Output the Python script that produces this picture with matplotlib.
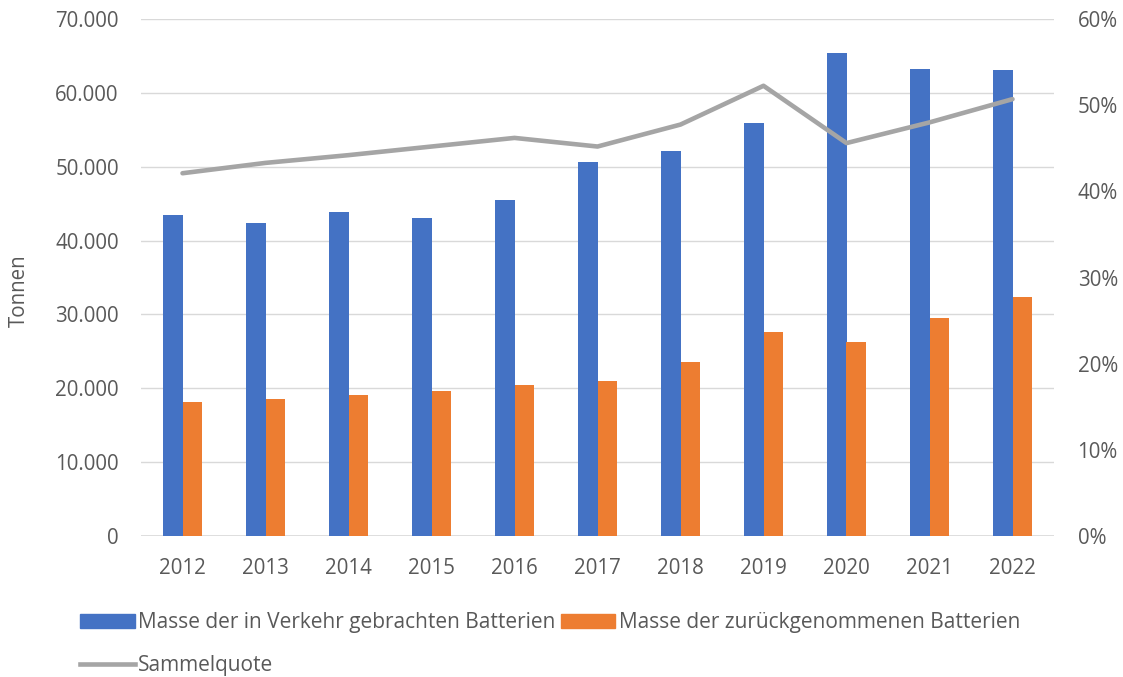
import matplotlib
matplotlib.use("Agg")
import matplotlib.pyplot as plt
import matplotlib.ticker as mticker
from matplotlib.patches import Patch
from matplotlib.lines import Line2D

plt.rcParams['font.family'] = ['Open Sans', 'DejaVu Sans']

years = ["2012", "2013", "2014", "2015", "2016", "2017", "2018", "2019", "2020", "2021", "2022"]
in_verkehr = [43500, 42400, 43900, 43100, 45500, 50600, 52100, 55900, 65400, 63200, 63100]
zurueck = [18100, 18550, 19100, 19600, 20450, 21000, 23500, 27600, 26300, 29550, 32400]
sammelquote = [42.1, 43.3, 44.2, 45.2, 46.2, 45.2, 47.75, 52.25, 45.6, 48.0, 50.7]

label_blue = "Masse der in Verkehr gebrachten Batterien"
label_orange = "Masse der zurückgenommenen Batterien"
label_line = "Sammelquote"

C_BLUE = "#4472C4"
C_ORANGE = "#ED7D31"
C_GRAY = "#A5A5A5"
C_TEXT = "#595959"
C_GRID = "#D9D9D9"
FS = 14.8
FS_LEG = 15

fig = plt.figure(figsize=(11.23, 6.77), dpi=100)
ax = fig.add_axes([141/1123, 1-536/677, (1054-141)/1123, (536-19)/677])
ax2 = ax.twinx()

x = list(range(len(years)))
w = 0.24
ax.bar([i - w/2 for i in x], in_verkehr, width=w, color=C_BLUE, zorder=3)
ax.bar([i + w/2 for i in x], zurueck, width=w, color=C_ORANGE, zorder=3)
ax2.plot(x, sammelquote, color=C_GRAY, linewidth=3.3, solid_capstyle='round', zorder=4)

ax.set_xlim(-0.5, len(years) - 0.5)
ax.set_ylim(0, 70000)
ax.set_yticks(range(0, 70001, 10000))
ax.yaxis.set_major_formatter(mticker.FuncFormatter(lambda v, p: f"{int(v):,}".replace(",", ".")))
ax2.set_ylim(0, 60)
ax2.set_yticks(range(0, 61, 10))
ax2.yaxis.set_major_formatter(mticker.FuncFormatter(lambda v, p: f"{int(v)}%"))

ax.set_xticks(x)
ax.set_xticklabels(years)

ax.grid(axis='y', color=C_GRID, linewidth=1.0, zorder=0)
ax.set_axisbelow(True)
for a in (ax, ax2):
    for s in ["top", "left", "right", "bottom"]:
        a.spines[s].set_visible(False)
ax.axhline(0, color=C_GRID, linewidth=1.2, zorder=2)

ax.tick_params(axis='both', length=0, labelsize=FS, labelcolor=C_TEXT)
ax.tick_params(axis='y', pad=16)
ax.tick_params(axis='x', pad=16)
ax2.tick_params(axis='y', length=0, labelsize=FS, labelcolor=C_TEXT, pad=17)

fig.text(19/1123, 1-291/677, "Tonnen", rotation=90, ha='center', va='center', fontsize=FS, color=C_TEXT)

handles = [Patch(color=C_BLUE), Line2D([0], [0], color=C_GRAY, linewidth=3.3), Patch(color=C_ORANGE)]
labels = [label_blue, label_line, label_orange]
leg = fig.legend(handles, labels, ncol=2, loc='upper left', bbox_to_anchor=(72/1123, 1-604/677),
                 frameon=False, fontsize=FS_LEG, handlelength=2.6, handleheight=0.7,
                 handletextpad=0.15, columnspacing=0.3, labelspacing=1.05, borderaxespad=0)
for t in leg.get_texts():
    t.set_color(C_TEXT)

fig.savefig("out.png", dpi=100)
